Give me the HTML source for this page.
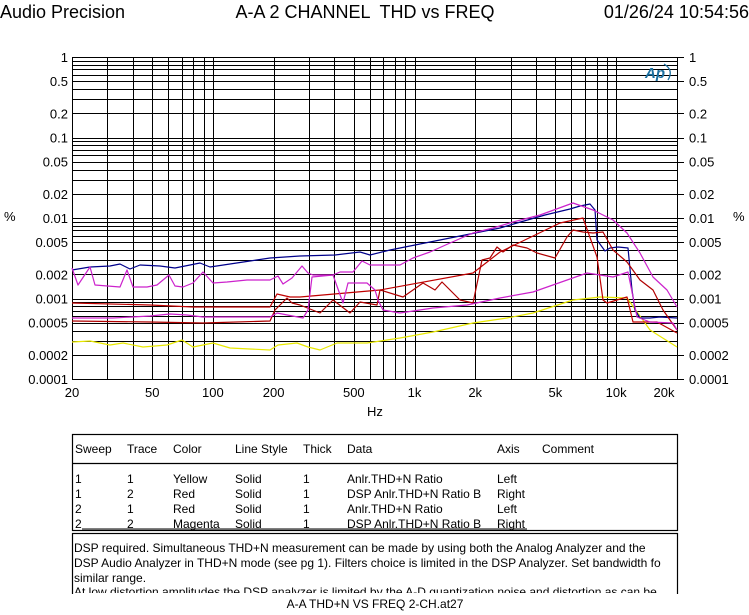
<!DOCTYPE html>
<html><head><meta charset="utf-8">
<style>
body{margin:0;background:#fff;width:749px;height:615px;overflow:hidden;font-family:"Liberation Sans",Arial,sans-serif;}
svg{position:absolute;left:0;top:0}
text{font-family:"Liberation Sans",Arial,sans-serif;fill:#000}
</style></head><body>
<svg id="s" width="749" height="615" viewBox="0 0 749 615">
<text x="0" y="18" font-size="18">Audio Precision</text>
<text x="365" y="18" font-size="18" text-anchor="middle" xml:space="preserve">A-A 2 CHANNEL  THD vs FREQ</text>
<text x="749" y="18" font-size="18" text-anchor="end">01/26/24 10:54:56</text>
<g id="grid" stroke="#000" stroke-width="1.3" shape-rendering="crispEdges"></g>
<g id="lab" font-size="13"></g>
<text x="4" y="221" font-size="13">%</text>
<text x="733" y="221" font-size="13">%</text>
<text x="375" y="416" font-size="13" text-anchor="middle">Hz</text>
<text x="645" y="78" font-size="15" font-weight="bold" font-style="italic" style="fill:#1a6fa0">Ap</text>
<path d="M664 64 Q674 70 668 80" stroke="#1a6fa0" fill="none" stroke-width="1.3"/>
<g fill="none" stroke-width="1.2" stroke-linejoin="round">
<polyline stroke="#e8e800" points="72,342 90,341 110,345 123,343 143,347 167,345 182,340 193,347 213,343 230,348 270,350 278,345 297,343 308,347 320,350 337,343 367,343 400,338 433,332 473,323 507,318 533,313 573,300 600,297 627,298 650,330 677,347"/>
<polyline stroke="#00008b" points="72,270 90,267 110,266 120,264 130,269 140,265 160,266 175,268 190,265 200,263 210,267 250,261 270,258 300,256 335,255 360,252 370,255 390,250 420,244 450,238 480,232 500,228 517,223 545,215 570,209 580,206 590,204 595,210 597,240 605,251 610,248 618,247 628,248 632,290 635,310 640,318 650,318 660,317 677,318"/>
<polyline stroke="#cc22cc" points="72,268 78,285 90,267 95,285 120,287 127,270 133,287 147,287 157,285 169,275 175,286 183,287 193,283 203,272 213,283 227,282 247,280 270,280 278,276 283,284 292,278 302,266 308,273 313,275 333,275 340,272 353,272 362,261 370,265 400,265 413,258 430,252 450,243 473,233 493,228 513,222 540,215 573,203 593,210 613,220 627,233 640,253 653,277 667,290 677,307"/>
<polyline stroke="#c00000" points="72,303 150,305 193,307 270,307 277,294 290,297 300,297 380,290 473,273 500,252 560,223 583,218 597,257 603,300 607,303 627,297 633,322 657,322 677,333"/>
<polyline stroke="#b00000" points="72,321 150,322 203,323 270,321 275,310 287,298 292,303 300,305 320,313 333,300 350,313 360,302 377,305 380,290 403,297 423,283 435,290 442,282 450,290 460,300 473,303 482,260 490,258 497,247 503,252 513,245 527,248 537,253 555,258 567,237 573,230 583,232 593,233 603,232 613,250 627,262 640,280 653,290 663,310 677,330"/>
<polyline stroke="#cc22cc" points="72,318 113,318 150,316 170,314 187,315 203,317 270,317 277,313 303,318 308,310 312,277 333,275 343,303 348,283 367,283 375,290 378,300 383,310 400,313 433,308 467,305 500,298 533,292 587,273 613,277 628,272 637,317 650,322 673,323 677,330"/>
</g>
<g fill="none" stroke="#000" stroke-width="1.2">
<rect x="72.5" y="434.5" width="605" height="96"/>
<line x1="72" y1="463.5" x2="678" y2="463.5"/>
<line x1="82" y1="529" x2="527" y2="529" stroke-width="1"/>
<rect x="72.5" y="533.5" width="605" height="80"/>
</g>
<rect x="60" y="594" width="640" height="21" fill="#fff"/>
<g font-size="12">
<text x="75" y="453">Sweep</text><text x="127" y="453">Trace</text><text x="173" y="453">Color</text><text x="235" y="453">Line Style</text><text x="303" y="453">Thick</text><text x="347" y="453">Data</text><text x="497" y="453">Axis</text><text x="542" y="453">Comment</text>
<text x="75" y="483">1</text><text x="127" y="483">1</text><text x="173" y="483">Yellow</text><text x="235" y="483">Solid</text><text x="303" y="483">1</text><text x="347" y="483">Anlr.THD+N Ratio</text><text x="497" y="483">Left</text>
<text x="75" y="498">1</text><text x="127" y="498">2</text><text x="173" y="498">Red</text><text x="235" y="498">Solid</text><text x="303" y="498">1</text><text x="347" y="498">DSP Anlr.THD+N Ratio B</text><text x="497" y="498">Right</text>
<text x="75" y="513">2</text><text x="127" y="513">1</text><text x="173" y="513">Red</text><text x="235" y="513">Solid</text><text x="303" y="513">1</text><text x="347" y="513">Anlr.THD+N Ratio</text><text x="497" y="513">Left</text>
<text x="75" y="528">2</text><text x="127" y="528">2</text><text x="173" y="528">Magenta</text><text x="235" y="528">Solid</text><text x="303" y="528">1</text><text x="347" y="528">DSP Anlr.THD+N Ratio B</text><text x="497" y="528">Right</text>
<text x="74" y="552">DSP required.  Simultaneous THD+N measurement can be made by using both the Analog Analyzer and the</text>
<text x="74" y="567">DSP Audio Analyzer in THD+N mode (see pg 1).  Filters choice is limited in the DSP Analyzer.  Set bandwidth fo</text>
<text x="74" y="582">similar range.</text>
<text x="74" y="596" clip-path="url(#cp)">At low distortion amplitudes the DSP analyzer is limited by the A-D quantization noise and distortion as can be</text>
<text x="375" y="608" text-anchor="middle">A-A THD+N VS FREQ 2-CH.at27</text>
</g>
<defs><clipPath id="cp"><rect x="72" y="585" width="605" height="8"/></clipPath></defs>
</svg>
<script>
var NS="http://www.w3.org/2000/svg";
function X(f){return 72+(Math.log10(f)-Math.log10(20))*201.6;}
function Y(v){return 57+(-Math.log10(v))*80.5;}
var g=document.getElementById('grid'),lab=document.getElementById('lab');
function L(x1,y1,x2,y2){var l=document.createElementNS(NS,'line');l.setAttribute('x1',x1);l.setAttribute('y1',y1);l.setAttribute('x2',x2);l.setAttribute('y2',y2);g.appendChild(l);}
function T(x,y,s,a){var t=document.createElementNS(NS,'text');t.setAttribute('x',x);t.setAttribute('y',y);t.setAttribute('text-anchor',a);t.textContent=s;lab.appendChild(t);}
for(var d=-4;d<0;d++)for(var m=1;m<10;m++){var v=m*Math.pow(10,d);var y=Math.round(Y(v))+0.5;L(72,y,678,y);}
L(72,57.5,678,57.5);
for(var d=1;d<=4;d++)for(var m=1;m<10;m++){var f=m*Math.pow(10,d);if(f<20||f>20000)continue;var x=Math.round(X(f))+0.5;L(x,57,x,380);}
var yl=[[1,'1'],[0.5,'0.5'],[0.2,'0.2'],[0.1,'0.1'],[0.05,'0.05'],[0.02,'0.02'],[0.01,'0.01'],[0.005,'0.005'],[0.002,'0.002'],[0.001,'0.001'],[0.0005,'0.0005'],[0.0002,'0.0002'],[0.0001,'0.0001']];
yl.forEach(function(p){var y=Y(p[0]);T(68,y+5,p[1],'end');T(689,y+5,p[1],'start');L(678,Math.round(y)+0.5,684,Math.round(y)+0.5);});
[[20,'20'],[50,'50'],[100,'100'],[200,'200'],[500,'500'],[1000,'1k'],[2000,'2k'],[5000,'5k'],[10000,'10k'],[20000,'20k']].forEach(function(p){T(p[0]==20?72:(p[0]==20000?664:X(p[0])),397,p[1],'middle');});
</script>
</body></html>
